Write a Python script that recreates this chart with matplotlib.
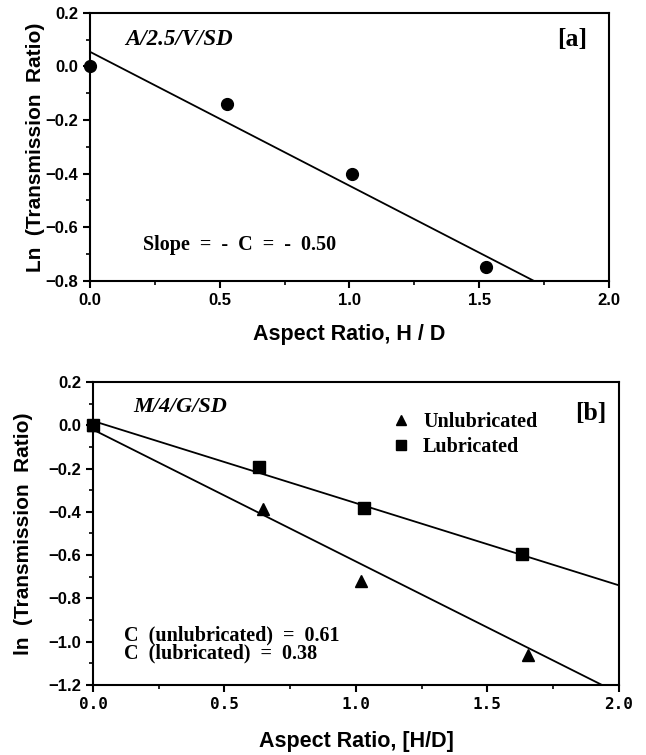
import matplotlib.pyplot as plt
from matplotlib.lines import Line2D
from matplotlib.ticker import MultipleLocator

# Panel [a]: A/2.5/V/SD
hd_a = [0.0, 0.53, 1.01, 1.525]
ln_tr_a = [0.0, -0.14, -0.40, -0.75]
slope_a = -0.50
icpt_a = 0.055

# Panel [b]: M/4/G/SD
hd_unlub = [0.0, 0.645, 1.02, 1.655]
ln_tr_unlub = [0.0, -0.385, -0.72, -1.06]
hd_lub = [0.0, 0.632, 1.032, 1.632]
ln_tr_lub = [0.0, -0.194, -0.381, -0.595]
c_unlub = 0.61
c_lub = 0.38
icpt_unlub = -0.02
icpt_lub = 0.02

x_fit = [0.0, 2.0]
x_ticks = [0.0, 0.5, 1.0, 1.5, 2.0]

sans = 'Liberation Sans'
serif = 'Liberation Serif'

fig = plt.figure(figsize=(6.46, 7.55), dpi=100)
ax1 = fig.add_axes([0.139, 0.628, 0.804, 0.355])
ax2 = fig.add_axes([0.144, 0.093, 0.814, 0.401])


def style_axes(ax, ylim, xlabel, ylabel, xfont, xsize):
    for s in ax.spines.values():
        s.set_linewidth(1.5)
    ax.set_xticks(x_ticks)
    ax.set_xticklabels(['%.1f' % v for v in x_ticks],
                       family=xfont, fontweight='bold', fontsize=xsize)
    ax.xaxis.set_minor_locator(MultipleLocator(0.25))
    ax.yaxis.set_major_locator(MultipleLocator(0.2))
    ax.yaxis.set_minor_locator(MultipleLocator(0.1))
    ax.set_xlim(0, 2.0)
    ax.set_ylim(*ylim)
    ax.tick_params(which='major', direction='out', length=5, width=1.5,
                   top=False, right=False)
    ax.tick_params(which='minor', direction='out', length=3, width=1.2,
                   top=False, right=False)
    for lab in ax.get_yticklabels():
        lab.set_family(sans)
        lab.set_fontweight('bold')
        lab.set_fontsize(12)
    ax.set_xlabel(xlabel, family=sans, fontweight='bold', fontsize=15.5)
    ax.set_ylabel(ylabel, family=sans, fontweight='bold', fontsize=15)


# ---- panel [a] ----
ax1.plot(x_fit, [icpt_a + slope_a * x for x in x_fit], color='black', lw=1.3)
ax1.plot(hd_a, ln_tr_a, 'o', color='black', ms=8.5, clip_on=False, zorder=5)
style_axes(ax1, (-0.8, 0.2), 'Aspect Ratio, H / D',
           'Ln  (Transmission  Ratio)', sans, 12)
ax1.xaxis.labelpad = 12
ax1.yaxis.labelpad = 0
ax1.text(0.135, 0.1, 'A/2.5/V/SD', family=serif, fontweight='bold',
         style='italic', fontsize=16.5, va='center')
ax1.text(1.80, 0.1, '[a]', family=serif, fontweight='bold', fontsize=18.5,
         va='center')
ax1.text(0.204, -0.666, 'Slope  =  -  C  =  -  0.50', family=serif,
         fontweight='bold', fontsize=14.5, va='center')

# ---- panel [b] ----
ax2.plot(x_fit, [icpt_unlub - c_unlub * x for x in x_fit], color='black', lw=1.3)
ax2.plot(x_fit, [icpt_lub - c_lub * x for x in x_fit], color='black', lw=1.3)
ax2.plot(hd_unlub, ln_tr_unlub, '^', color='black', ms=8, clip_on=False, zorder=5)
ax2.plot(hd_lub, ln_tr_lub, 's', color='black', ms=8, clip_on=False, zorder=5)
style_axes(ax2, (-1.2, 0.2), 'Aspect Ratio, [H/D]',
           'ln  (Transmission  Ratio)', 'DejaVu Sans Mono', 11.5)
ax2.xaxis.labelpad = 14
ax2.yaxis.labelpad = 11
ax2.text(0.152, 0.085, 'M/4/G/SD', family=serif, fontweight='bold',
         style='italic', fontsize=16, va='center')
ax2.text(1.833, 0.055, '[b]', family=serif, fontweight='bold', fontsize=18.5,
         va='center')
ax2.text(0.118, -1.012, 'C  (unlubricated)  =  0.61\nC  (lubricated)  =  0.38',
         family=serif, fontweight='bold', fontsize=14.5, va='center',
         linespacing=0.85)

handles = [
    Line2D([], [], ls='none', marker='^', color='black', ms=7),
    Line2D([], [], ls='none', marker='s', color='black', ms=7),
]
ax2.legend(handles, ['Unlubricated', 'Lubricated'], loc='upper left',
           bbox_to_anchor=(0.532, 0.96), frameon=False, handlelength=1.0,
           handletextpad=0.6, labelspacing=0.25,
           prop={'family': serif, 'weight': 'bold', 'size': 14.5})

fig.savefig('out.png', dpi=100)
